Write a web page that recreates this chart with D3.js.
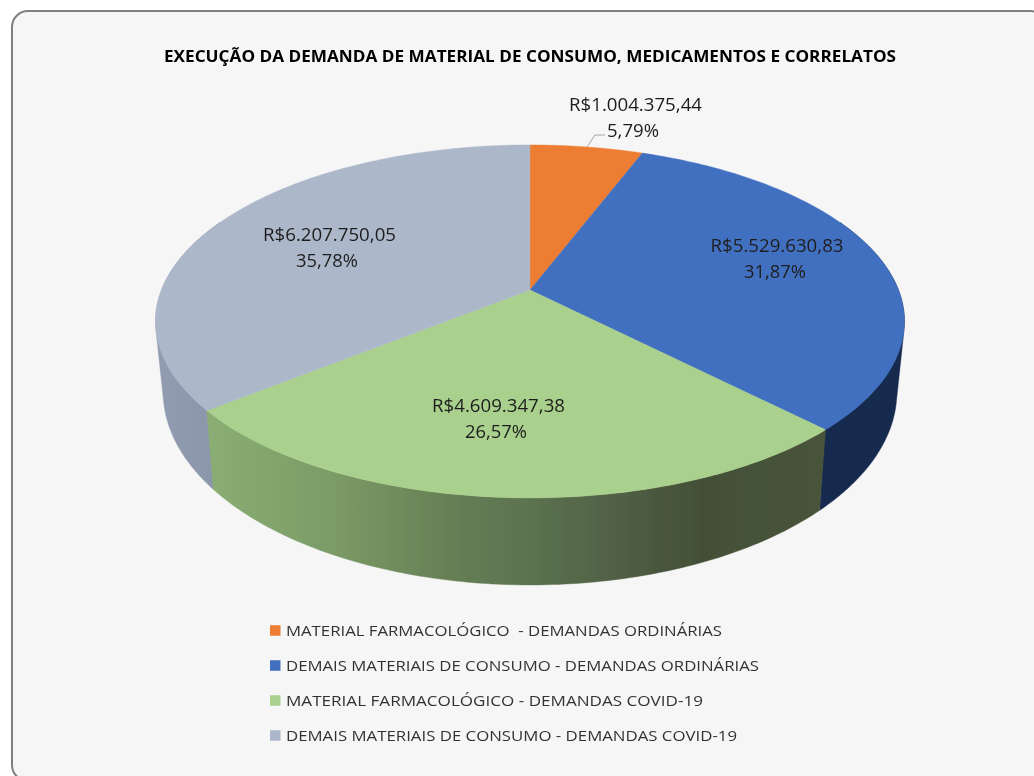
<!DOCTYPE html>
<html><head><meta charset="utf-8">
<script src="https://cdn.jsdelivr.net/npm/d3@7/dist/d3.min.js"></script>
<style>html,body{margin:0;padding:0;background:#fff}svg{display:block}</style></head>
<body><div id="chart"></div>
<script>
const categories = ["MATERIAL FARMACOLÓGICO  - DEMANDAS ORDINÁRIAS","DEMAIS MATERIAIS DE CONSUMO - DEMANDAS ORDINÁRIAS","MATERIAL FARMACOLÓGICO - DEMANDAS COVID-19","DEMAIS MATERIAIS DE CONSUMO - DEMANDAS COVID-19"];
const values = [1004375.44, 5529630.83, 4609347.38, 6207750.05];
const valueLabels = ["R$1.004.375,44","R$5.529.630,83","R$4.609.347,38","R$6.207.750,05"];
const percentLabels = ["5,79%","31,87%","26,57%","35,78%"];
const colors = ["#ED7D31","#4270C0","#A9D08C","#ACB8C9"];
const title = "EXECUÇÃO DA DEMANDA DE MATERIAL DE CONSUMO, MEDICAMENTOS E CORRELATOS";

const W=1034,H=776;
const font='"Open Sans","Noto Sans",sans-serif';
const svg=d3.select("#chart").append("svg").attr("width",W).attr("height",H).attr("viewBox",`0 0 ${W} ${H}`);
const defs=svg.append("defs");
defs.append("filter").attr("id","soft").attr("filterUnits","userSpaceOnUse")
  .attr("x",0).attr("y",0).attr("width",W).attr("height",H)
  .append("feGaussianBlur").attr("stdDeviation",0.5);
const root=svg.append("g").attr("filter","url(#soft)");

root.append("rect").attr("x",12).attr("y",11).attr("width",1034).attr("height",770).attr("rx",16)
  .attr("fill","#F6F6F6").attr("stroke","#7F7F7F").attr("stroke-width",2);

root.append("text").attr("x",530).attr("y",62).attr("text-anchor","middle")
  .attr("font-family",font).attr("font-weight",700).attr("font-size",16.5).attr("fill","#000")
  .attr("textLength",732).attr("lengthAdjust","spacingAndGlyphs").text(title);

// perspective projection of the pie disc
const k=0.178, faceP={cx:530,cy:290,A:368.5,B:170.9}, baseP={cx:530,cy:357.5,A:361,B:187};
const proj=(p,t)=>{const u=Math.sin(t),v=-Math.cos(t),w=1-k*v;return [p.cx+p.A*u/w,p.cy+p.B*v/w];};
const arcPts=(p,a,b)=>d3.range(0,121).map(i=>proj(p,a+(b-a)*i/120));
const line=d3.line();
const arcs=d3.pie().sort(null).startAngle(0).endAngle(2*Math.PI)(values);

// side gradients
const grad=(id,stops)=>{const g=defs.append("linearGradient").attr("id",id).attr("gradientUnits","userSpaceOnUse")
  .attr("x1",156).attr("x2",905).attr("y1",0).attr("y2",0);
  stops.forEach(s=>g.append("stop").attr("offset",(s[0]-156)/749).attr("stop-color",s[1]));};
grad("sideBlue",[[156,"#1A2D52"],[905,"#182A4E"]]);
grad("sideGreen",[[205,"#8AAE74"],[330,"#7C9C67"],[450,"#667F54"],[530,"#5C7350"],[620,"#505F44"],[700,"#435036"],[830,"#48543A"]]);
grad("sideGrey",[[156,"#929CB0"],[215,"#8C96AA"]]);
const sideFill=["#B5612A","url(#sideBlue)","url(#sideGreen)","url(#sideGrey)"];

// walls: the outer slices use a convex hull so the silhouette follows the tangent between rims; the front slice is painted last
const lim=a=>[Math.max(a.startAngle,Math.PI*0.36),Math.min(a.endAngle,Math.PI*1.64)];
const wallOrder=[1,3,2];
root.append("g").selectAll("path").data(wallOrder).join("path")
  .attr("d",i=>{const [s,e]=lim(arcs[i]);
    const f=arcPts(faceP,s,e), b=arcPts(baseP,s,e);
    if(i===2) return line(f.concat(b.reverse()))+"Z";
    return line(d3.polygonHull(f.concat(b)))+"Z";})
  .attr("fill",i=>sideFill[i]).attr("stroke",i=>sideFill[i]).attr("stroke-width",0.4);

root.append("g").selectAll("path").data(arcs).join("path")
  .attr("d",a=>line([[faceP.cx,faceP.cy]].concat(arcPts(faceP,a.startAngle,a.endAngle)))+"Z")
  .attr("fill",(a,i)=>colors[i]).attr("stroke",(a,i)=>colors[i]).attr("stroke-width",0.4);

// labels
const labelPos=[[635.5,111],[777,252],[498.5,412],[329.5,241]];
const pctPos=[[633,137],[775,277.5],[496,437.5],[327,266.5]];
const pctW=[52,62,62,62];
const lg=root.append("g").attr("font-family",font).attr("font-size",17.5).attr("fill","#1f1f1f").attr("text-anchor","middle");
values.forEach((v,i)=>{
  lg.append("text").attr("x",labelPos[i][0]).attr("y",labelPos[i][1]).attr("textLength",133).attr("lengthAdjust","spacingAndGlyphs").text(valueLabels[i]);
  lg.append("text").attr("x",pctPos[i][0]).attr("y",pctPos[i][1]).attr("textLength",pctW[i]).attr("lengthAdjust","spacingAndGlyphs").text(percentLabels[i]);
});
root.append("polyline").attr("points","587,147 595,135 605,135").attr("fill","none").attr("stroke","#A6A6A6").attr("stroke-width",1);

// legend
const ly=d3.scalePoint().domain(categories).range([630.5,735.5]);
const legendW=[436,473,417,451];
const lgd=root.append("g").selectAll("g").data(categories).join("g").attr("transform",d=>`translate(270,${ly(d)})`);
lgd.append("rect").attr("y",-5.25).attr("width",10.5).attr("height",10.5).attr("fill",(d,i)=>colors[i]);
lgd.append("text").attr("x",16).attr("y",5.5).attr("font-family",font).attr("font-size",15).attr("fill","#333")
  .style("white-space","pre").attr("textLength",(d,i)=>legendW[i]).attr("lengthAdjust","spacingAndGlyphs").text(d=>d);
</script></body></html>
